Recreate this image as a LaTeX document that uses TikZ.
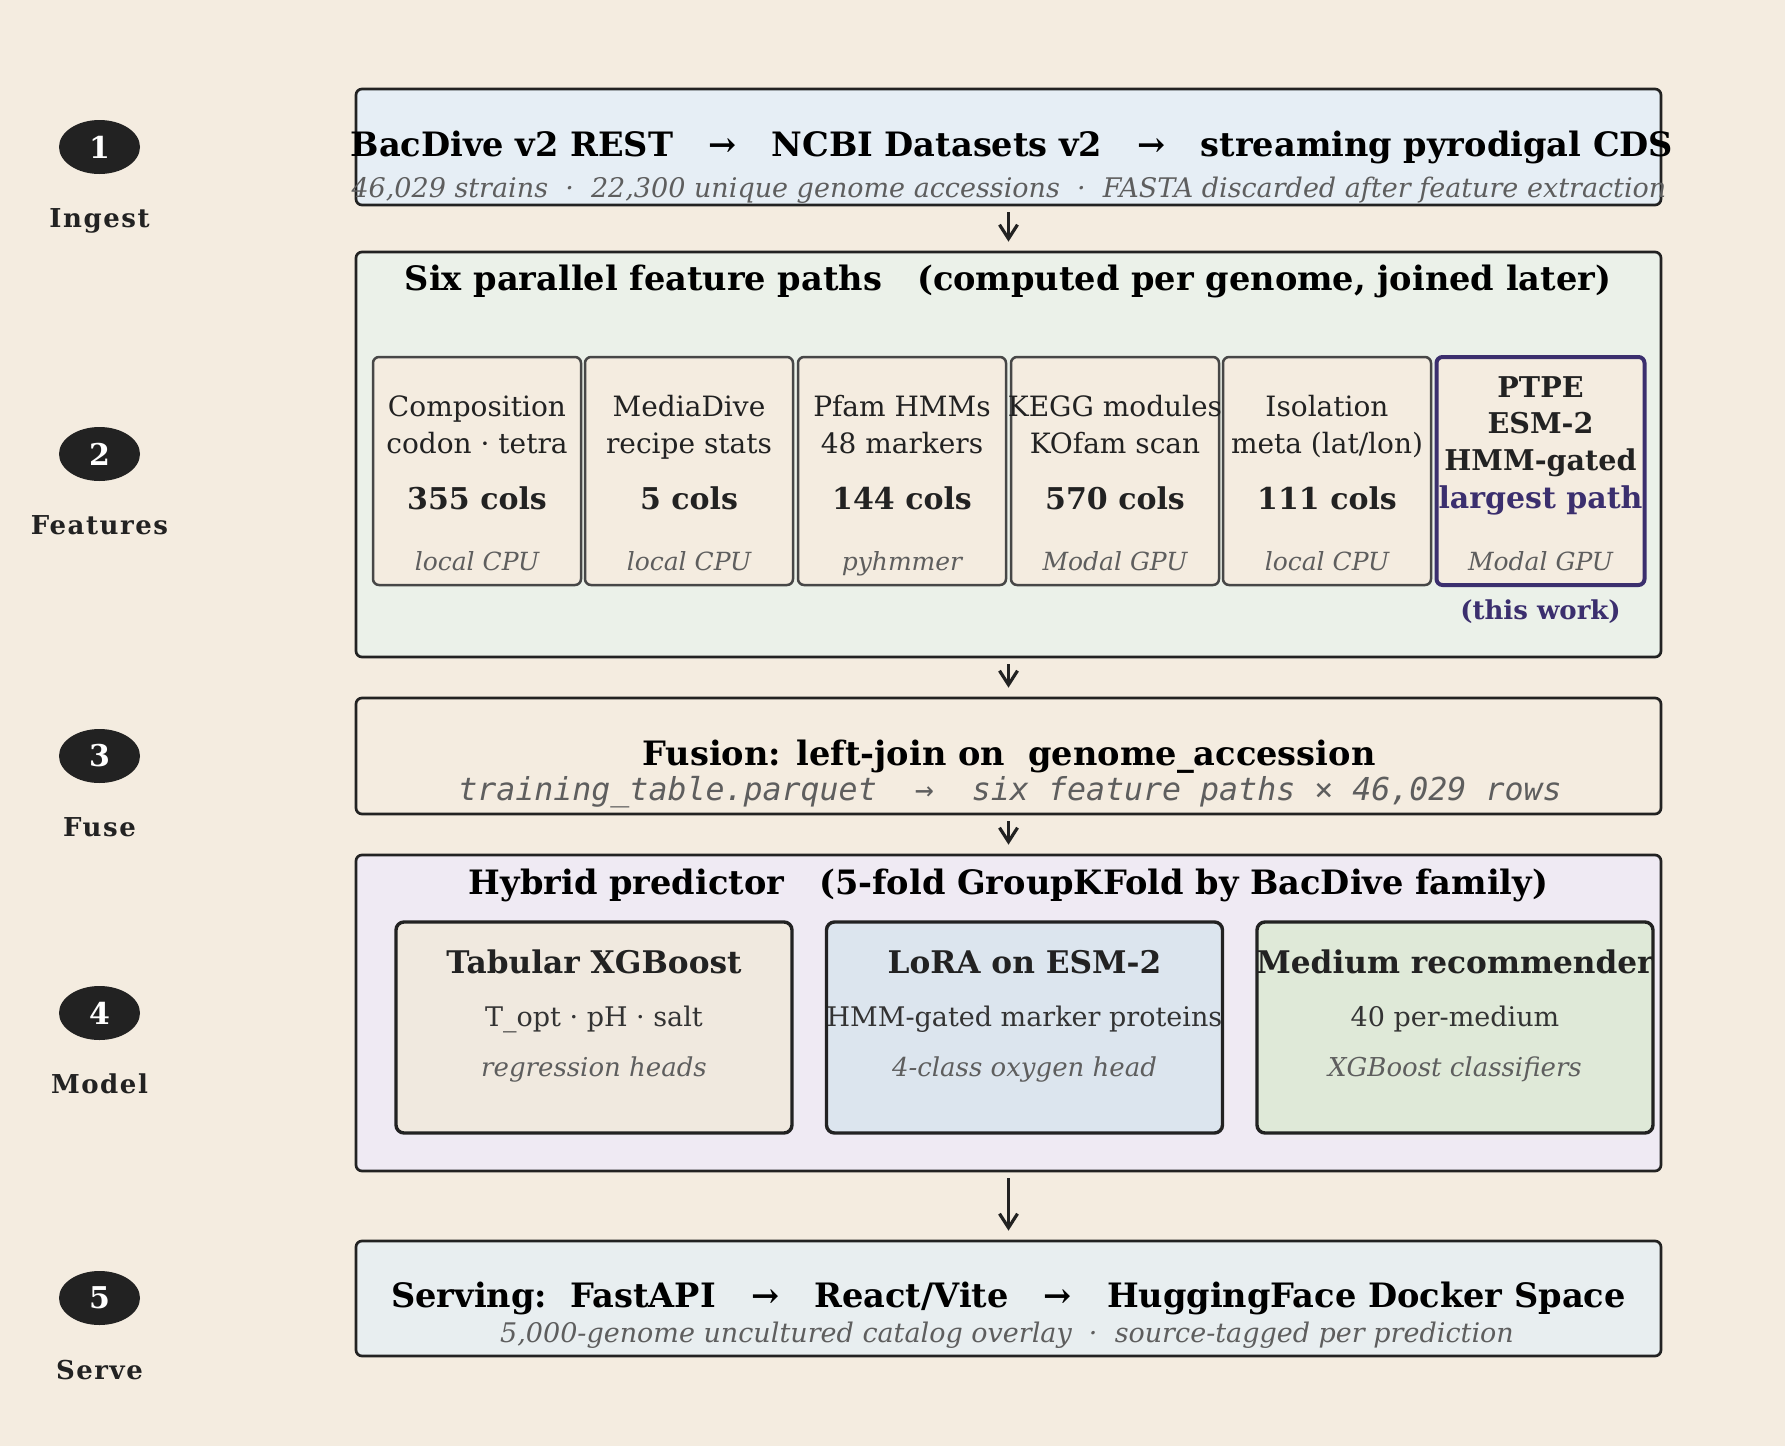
\documentclass[tikz,border=0pt]{standalone}
\usepackage{fontspec}
\setmainfont{DejaVu Serif}
\setmonofont{DejaVu Sans Mono}
\usetikzlibrary{shapes.geometric,arrows.meta}

\definecolor{paper}{HTML}{F4ECE0}
\definecolor{ink}{HTML}{222222}
\definecolor{edge}{HTML}{474747}
\definecolor{muted}{HTML}{5E5E5E}
\definecolor{body}{HTML}{333333}
\definecolor{indigo}{HTML}{3B2F6E}
\definecolor{skyband}{HTML}{E6EEF5}
\definecolor{sageband}{HTML}{EBF1E9}
\definecolor{lilacband}{HTML}{EFEAF3}
\definecolor{mistband}{HTML}{E8EEF0}
\definecolor{tabfill}{HTML}{F0E9DF}
\definecolor{lorafill}{HTML}{DCE5EE}
\definecolor{medfill}{HTML}{DFE9D8}

\begin{document}
\begin{tikzpicture}[x=0.5pt, y=-0.5pt,
    stage/.style = {ellipse, fill=ink, text=white, minimum width=40.5pt, minimum height=27pt, inner sep=0pt, font=\bfseries\fontsize{15}{18}\selectfont},
    stagelbl/.style = {anchor=base, text=ink, font=\bfseries\fontsize{13}{16}\selectfont\addfontfeatures{LetterSpace=6}},
    band/.style = {draw=ink, line width=1.35pt, rounded corners=3pt, inner sep=0pt, minimum width=652.5pt},
    featbox/.style = {draw=edge, line width=1.25pt, rounded corners=3pt, fill=paper, inner sep=0pt, minimum width=104pt, minimum height=114pt},
    headbox/.style = {draw=ink, line width=1.7pt, rounded corners=4pt, inner sep=0pt, minimum width=198pt, minimum height=105.5pt},
    head/.style = {anchor=base, text=black, font=\bfseries\fontsize{16.8}{20}\selectfont},
    note/.style = {anchor=base, text=muted, font=\itshape\fontsize{13.5}{16}\selectfont},
    line/.style = {anchor=base, text=ink, font=\fontsize{14}{17}\selectfont},
    cols/.style = {anchor=base, text=ink, font=\bfseries\fontsize{15}{18}\selectfont},
    where/.style = {anchor=base, text=muted, font=\itshape\fontsize{12.5}{15}\selectfont},
    code/.style = {anchor=base, text=muted, font=\ttfamily\itshape\fontsize{15.8}{18}\selectfont},
    flow/.style = {draw=ink, line width=1.6pt, -{Straight Barb[length=7pt,width=9pt]}, shorten <=3pt, shorten >=4.5pt}]

    \fill[paper] (0,0) rectangle (1785,1446);
    \useasboundingbox (0,0) rectangle (1785,1446);

    % stages
    \node[stage] (s1) at (99.5,147) {1};
    \node[stagelbl] (l1) at (99.5,227) {Ingest};
    \node[stage] (s2) at (99.5,454) {2};
    \node[stagelbl] (l2) at (99.5,534) {Features};
    \node[stage] (s3) at (99.5,756) {3};
    \node[stagelbl] (l3) at (99.5,836) {Fuse};
    \node[stage] (s4) at (99.5,1013) {4};
    \node[stagelbl] (l4) at (99.5,1093) {Model};
    \node[stage] (s5) at (99.5,1298) {5};
    \node[stagelbl] (l5) at (99.5,1379) {Serve};

    % bands
    \node[band, fill=skyband, minimum height=58pt] (ingest) at (1008.5,147) {};
    \node[band, fill=sageband, minimum height=202.5pt] (feat) at (1008.5,454.5) {};
    \node[band, fill=paper, minimum height=58pt] (fuse) at (1008.5,756) {};
    \node[band, fill=lilacband, minimum height=158pt] (model) at (1008.5,1013) {};
    \node[band, fill=mistband, minimum height=57.5pt] (serve) at (1008.5,1298.5) {};

    \draw[flow] (ingest) -- (feat);
    \draw[flow] (feat) -- (fuse);
    \draw[flow] (fuse) -- (model);
    \draw[flow] (model) -- (serve);

    % ingest
    \node[head] (ingestT) at (1012,156) {BacDive v2 REST~~~→~~~NCBI Datasets v2~~~→~~~streaming pyrodigal CDS};
    \node[note] (ingestS) at (1009,197) {46,029 strains~~·~~22,300 unique genome accessions~~·~~FASTA discarded after feature extraction};

    % features
    \node[head] (featT) at (1008,290) {Six parallel feature paths~~~(computed per genome, joined later)};

    \node[featbox] (comp) at (477,471) {};
    \node[line] (comp1) at (477,416) {Composition};
    \node[line] (comp2) at (477,453) {codon · tetra};
    \node[cols] (comp3) at (477,509) {355 cols};
    \node[where] (comp4) at (477,570) {local CPU};

    \node[featbox] (media) at (689,471) {};
    \node[line] (media1) at (689,416) {MediaDive};
    \node[line] (media2) at (689,453) {recipe stats};
    \node[cols] (media3) at (689,509) {5 cols};
    \node[where] (media4) at (689,570) {local CPU};

    \node[featbox] (pfam) at (902,471) {};
    \node[line] (pfam1) at (902,416) {Pfam HMMs};
    \node[line] (pfam2) at (902,453) {48 markers};
    \node[cols] (pfam3) at (902,509) {144 cols};
    \node[where] (pfam4) at (902,570) {pyhmmer};

    \node[featbox] (kegg) at (1115,471) {};
    \node[line] (kegg1) at (1115,416) {KEGG modules};
    \node[line] (kegg2) at (1115,453) {KOfam scan};
    \node[cols] (kegg3) at (1115,509) {570 cols};
    \node[where] (kegg4) at (1115,570) {Modal GPU};

    \node[featbox] (iso) at (1327,471) {};
    \node[line] (iso1) at (1327,416) {Isolation};
    \node[line] (iso2) at (1327,453) {meta (lat/lon)};
    \node[cols] (iso3) at (1327,509) {111 cols};
    \node[where] (iso4) at (1327,570) {local CPU};

    \node[featbox, draw=indigo, line width=2pt] (ptpe) at (1540.5,471) {};
    \node[cols, font=\bfseries\fontsize{14.3}{17}\selectfont] (ptpe1) at (1540.5,397) {PTPE};
    \node[cols, font=\bfseries\fontsize{14.3}{17}\selectfont] (ptpe2) at (1540.5,433) {ESM-2};
    \node[cols, font=\bfseries\fontsize{14.3}{17}\selectfont] (ptpe3) at (1540.5,470) {HMM-gated};
    \node[cols, text=indigo] (ptpe4) at (1540.5,508) {largest path};
    \node[where] (ptpe5) at (1540.5,570) {Modal GPU};
    \node[cols, text=indigo, font=\bfseries\fontsize{13}{16}\selectfont] (ptpe6) at (1540.5,619) {(this work)};

    % fuse
    \node[head] (fuseT) at (1009,765) {Fusion: left-join on~~genome\_accession};
    \node[code] (fuseS) at (1010,800) {training\_table.parquet~~→~~six feature paths × 46,029 rows};

    % model
    \node[head] (modelT) at (1008.5,894) {Hybrid predictor~~~(5-fold GroupKFold by BacDive family)};

    \node[headbox, fill=tabfill] (xgb) at (594,1027.5) {};
    \node[cols, font=\bfseries\fontsize{15.6}{18}\selectfont] (xgb1) at (594,973) {Tabular XGBoost};
    \node[line, text=body, font=\fontsize{13.5}{16}\selectfont] (xgb2) at (594,1026) {T\_opt · pH · salt};
    \node[note, font=\itshape\fontsize{13}{16}\selectfont] (xgb3) at (594,1076) {regression heads};

    \node[headbox, fill=lorafill] (lora) at (1024.5,1027.5) {};
    \node[cols, font=\bfseries\fontsize{15.6}{18}\selectfont] (lora1) at (1024.5,973) {LoRA on ESM-2};
    \node[line, text=body, font=\fontsize{13.5}{16}\selectfont] (lora2) at (1024.5,1026) {HMM-gated marker proteins};
    \node[note, font=\itshape\fontsize{13}{16}\selectfont] (lora3) at (1024.5,1076) {4-class oxygen head};

    \node[headbox, fill=medfill] (medium) at (1455,1027.5) {};
    \node[cols, font=\bfseries\fontsize{15.6}{18}\selectfont] (medium1) at (1455,973) {Medium recommender};
    \node[line, text=body, font=\fontsize{13.5}{16}\selectfont] (medium2) at (1455,1026) {40 per-medium};
    \node[note, font=\itshape\fontsize{13}{16}\selectfont] (medium3) at (1455,1076) {XGBoost classifiers};

    % serve
    \node[head] (serveT) at (1008.5,1307) {Serving:~~FastAPI~~~→~~~React/Vite~~~→~~~HuggingFace Docker Space};
    \node[note] (serveS) at (1007,1342) {5,000-genome uncultured catalog overlay~~·~~source-tagged per prediction};
\end{tikzpicture}
\end{document}
